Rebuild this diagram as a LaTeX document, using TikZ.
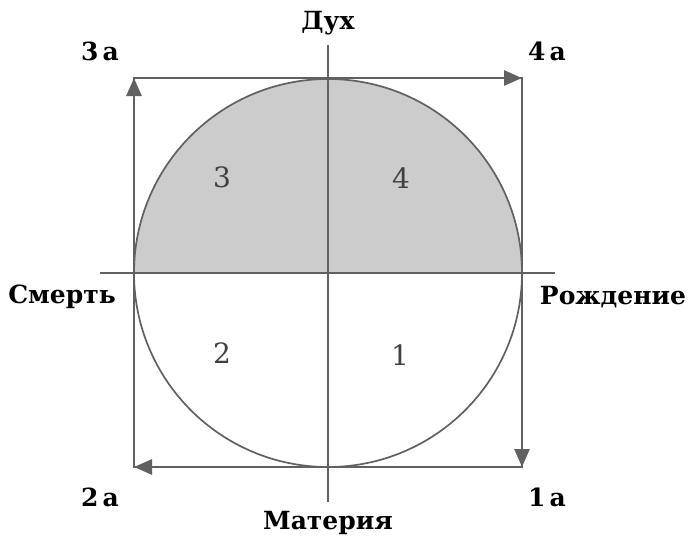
\documentclass[tikz,border=0pt]{standalone}
\usepackage{fontspec}
\setmainfont{DejaVu Serif}
\usetikzlibrary{arrows.meta}
\definecolor{fillgray}{gray}{0.80}
\definecolor{linegray}{gray}{0.38}
\definecolor{numgray}{gray}{0.25}
\tikzset{
  edgearrow/.style={draw=linegray, line width=2.8pt, -{Triangle[length=18pt,width=15pt]}},
  axisline/.style={draw=linegray, line width=1.6pt},
  lbl/.style={font=\bfseries\fontsize{25}{28}\selectfont, text=black, inner sep=0pt},
  qnum/.style={font=\fontsize{28}{30}\selectfont, text=numgray, inner sep=0pt}
}
\begin{document}
\begin{tikzpicture}[x=1pt,y=-1pt]
\useasboundingbox (0,0) rectangle (689,541);
\fill[white] (0,0) rectangle (689,541);
% key coordinates
\coordinate (O) at (328,273);
\coordinate (TL) at (134,78);
\coordinate (TR) at (522,78);
\coordinate (BR) at (522,467);
\coordinate (BL) at (134,467);
\coordinate (T) at (328,78);
\coordinate (B) at (328,467);
\coordinate (L) at (134,273);
\coordinate (R) at (522,273);
\coordinate (AxL) at (100,273);
\coordinate (AxR) at (555,273);
\coordinate (AxT) at (328,45);
\coordinate (AxB) at (328,502);
% upper half filled
\fill[fillgray] (L) arc[start angle=180, end angle=360, radius=194] -- cycle;
% thin square
\draw[linegray, line width=1.3pt] (TL) rectangle (BR);
% circle
\draw[linegray, line width=1.7pt] (O) circle[radius=194];
% axes
\draw[axisline] (AxL) -- (AxR);
\draw[axisline] (AxT) -- (AxB);
% edge arrows
\draw[edgearrow] (L) -- (TL);
\draw[edgearrow] (T) -- (TR);
\draw[edgearrow] (R) -- (BR);
\draw[edgearrow] (B) -- (BL);
% labels
\node[lbl] (dukh) at (328,23) {Дух};
\node[lbl] (mat) at (328,523) {Материя};
\node[lbl] (smert) at (62,297) {Смерть};
\node[lbl] (rozh) at (613,297) {Рождение};
\node[lbl] (a3) at (100,51) {3\,a};
\node[lbl] (a4) at (547,51) {4\,a};
\node[lbl] (a2) at (100,497) {2\,a};
\node[lbl] (a1) at (547,497) {1\,a};
% quadrant numbers
\node[qnum] (q3) at (222,177) {3};
\node[qnum] (q4) at (401,178) {4};
\node[qnum] (q2) at (222,353) {2};
\node[qnum] (q1) at (400,355) {1};
\end{tikzpicture}
\end{document}
